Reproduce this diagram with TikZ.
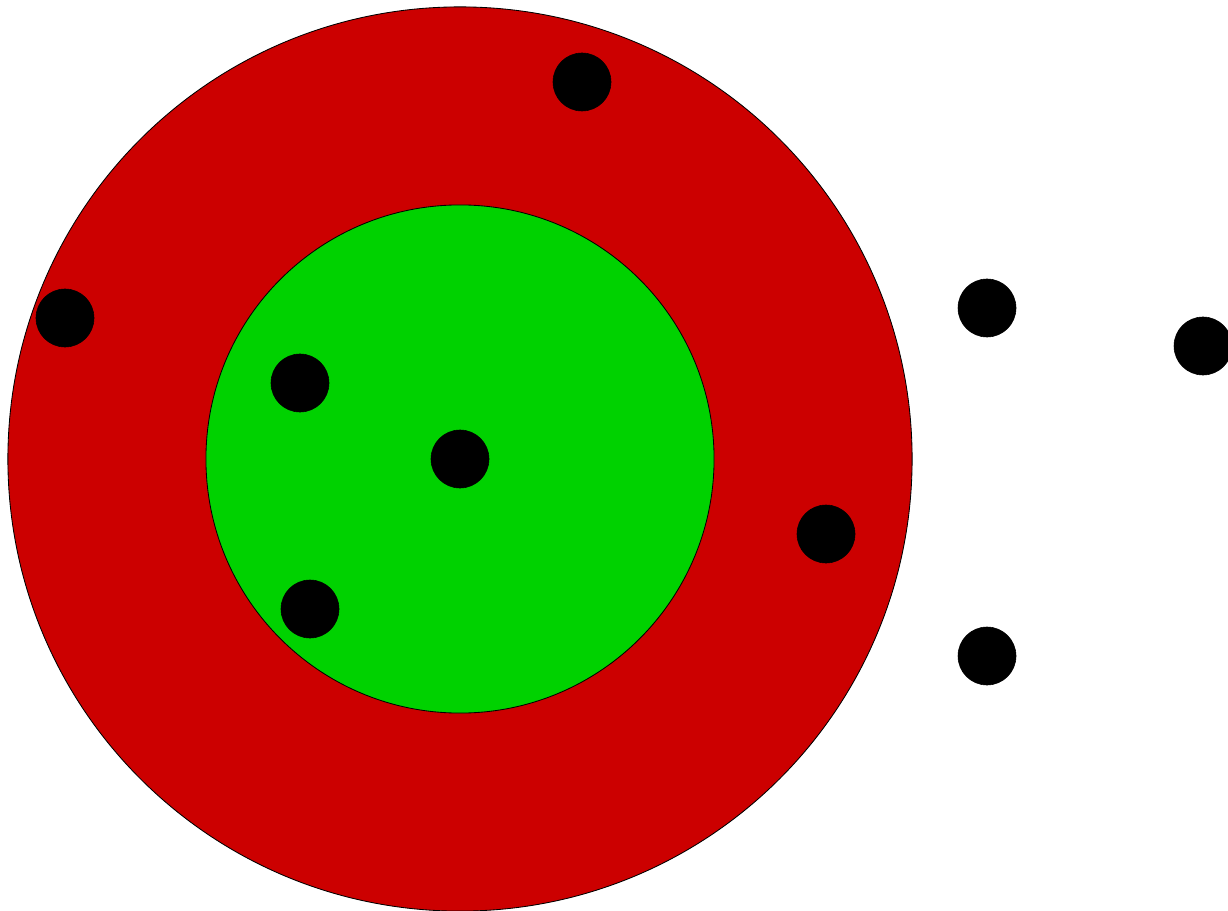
\documentclass[tikz,border=0pt]{standalone}
\usepackage{tikz}
\definecolor{ringred}{RGB}{204,0,0}
\definecolor{coregreen}{RGB}{0,210,0}

\begin{document}
\begin{tikzpicture}[
    x=0.025cm, y=-0.025cm,
    zone/.style={draw, circle, inner sep=0pt, line width=0.6pt},
    dot/.style={circle, fill=black, draw=black, inner sep=0pt, minimum size=1.45cm}
  ]
    \useasboundingbox (0,0) rectangle (1228,911);
    \clip (0,0) rectangle (1228,911);
    \node[zone, fill=ringred, minimum size=22.6cm] (outer) at (460,459) {};
    \node[zone, fill=coregreen, minimum size=12.7cm] (inner) at (460,459) {};
    % points inside the core
    \node[dot] (c) at (460,459) {};
    \node[dot] (i1) at (300,383) {};
    \node[dot] (i2) at (310,609) {};
    % points in the ring
    \node[dot] (r1) at (582,82) {};
    \node[dot] (r2) at (65,318) {};
    \node[dot] (r3) at (826,534) {};
    % points outside
    \node[dot] (o1) at (987,308) {};
    \node[dot] (o2) at (987,656) {};
    \node[dot] (o3) at (1203,346) {};
  \end{tikzpicture}
\end{document}
